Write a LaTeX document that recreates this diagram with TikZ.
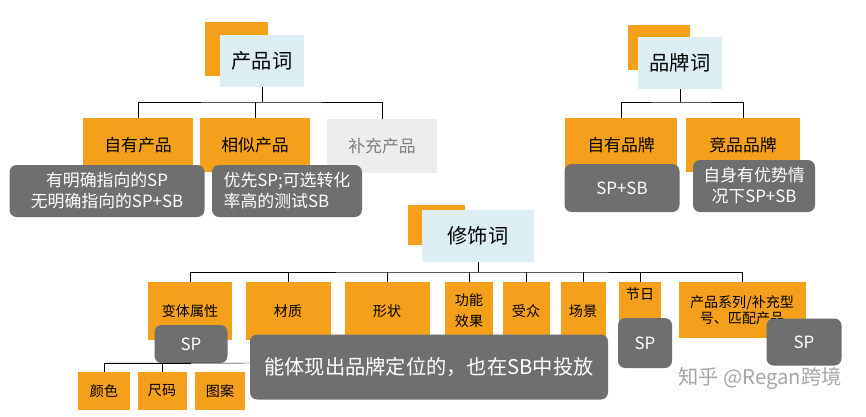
\documentclass[tikz,border=0pt]{standalone}
\usepackage{fontspec}
\setmainfont{Noto Sans CJK SC}
\usetikzlibrary{positioning}
\definecolor{amorange}{HTML}{F5A01A}
\definecolor{amblue}{HTML}{DCEEF4}
\definecolor{amgray}{HTML}{6F6F6F}
\definecolor{amlight}{HTML}{EDEDED}
\begin{document}
\begin{tikzpicture}[x=0.03cm, y=-0.03cm,
        cat/.style={fill=amorange, minimum width=#1*0.03cm, minimum height=54*0.03cm, font=\Large, inner sep=1pt, align=center},
        cat/.default=110,
        head/.style={fill=amblue, minimum width=84*0.03cm, minimum height=52*0.03cm, font=\LARGE},
        back/.style={fill=amorange},
        note/.style={fill=amgray, rounded corners=6pt, text=white, align=center, font=\Large, inner sep=2pt},
        tree/.style={draw, black, thin}]
    \useasboundingbox (0,0) rectangle (866,416);
    % product words
    \fill[back] (205,22) rectangle (268,76);
    \node[head] (P) at (262,61) {产品词};
    \node[cat] (P1) at (138,145) {自有产品};
    \node[cat] (P2) at (255,145) {相似产品};
    \node[cat, fill=amlight, text=gray] (P3) at (382,146) {补充产品};
    \draw[tree] (P.south) -- (262,102) coordinate (p0);
    \draw[tree] (P1.north) |- (p0) -| (P3.north);
    \draw[tree] (P2.north) -- (P2.north |- p0);
    \node[note, minimum width=195*0.03cm, minimum height=52*0.03cm] (N1) at (107,191) {有明确指向的SP\\无明确指向的SP+SB};
    \node[note, minimum width=150*0.03cm, minimum height=52*0.03cm, align=left] (N2) at (287,191) {优先SP;可选转化\\率高的测试SB};
    % brand words
    \fill[back] (628,25) rectangle (690,70);
    \node[head] (B) at (680,63) {品牌词};
    \node[cat=112] (B1) at (621,145) {自有品牌};
    \node[cat=114] (B2) at (743,145) {竞品品牌};
    \draw[tree] (B.south) -- (680,102) coordinate (b0);
    \draw[tree] (B1.north) |- (b0) -| (B2.north);
    \node[note, minimum width=115*0.03cm, minimum height=48*0.03cm] (N3) at (622,188) {SP+SB};
    \node[note, minimum width=122*0.03cm, minimum height=52*0.03cm] (N4) at (754,186) {自身有优势情\\况下SP+SB};
    % modifier words
    \fill[back] (408,205) rectangle (465,245);
    \node[head, minimum width=112*0.03cm] (M) at (478,236) {修饰词};
    \node[cat=84, minimum height=58*0.03cm, font=\large] (M1) at (190,311) {变体属性};
    \node[cat=85, minimum height=58*0.03cm, font=\large] (M2) at (288,311) {材质};
    \node[cat=85, minimum height=58*0.03cm, font=\large] (M3) at (387,311) {形状};
    \node[cat=48, minimum height=58*0.03cm, font=\large] (M4) at (469,311) {功能\\[4pt]效果};
    \node[cat=47, minimum height=58*0.03cm, font=\large] (M5) at (526,311) {受众};
    \node[cat=45, minimum height=58*0.03cm, font=\large] (M6) at (583,311) {场景};
    \node[cat=42, minimum height=58*0.03cm, font=\large, anchor=north] (M7) at (640,282) {节日\\[16pt]};
    \node[cat=127, minimum height=56*0.03cm, font=\large] (M8) at (742,310) {产品系列/补充型\\号、匹配产品};
    \draw[tree] (M.south) -- (478,272) coordinate (m0);
    \draw[tree] (M1.north) |- (m0) -| (M8.north);
    \foreach \k in {2,...,7} \draw[tree] (M\k.north) -- (M\k.north |- m0);
    % modifier notes
    \node[note, minimum width=73*0.03cm, minimum height=38*0.03cm] (S1) at (191,344) {SP};
    \node[note, minimum width=54*0.03cm, minimum height=50*0.03cm] (S2) at (645,343) {SP};
    \node[note, minimum width=75*0.03cm, minimum height=47*0.03cm] (S3) at (804,342) {SP};
    \node[cat=52, minimum height=38*0.03cm, font=\large] (V1) at (104,391) {颜色};
    \node[cat=49, minimum height=38*0.03cm, font=\large] (V2) at (162,391) {尺码};
    \node[cat=50, minimum height=38*0.03cm, font=\large] (V3) at (220,391) {图案};
    \draw[tree] (V1.north) |- (S1.south) coordinate (s0);
    \draw[tree] (V1.north |- s0) -- (250,363);
    \draw[tree] (V2.north) -- (V2.north |- s0);
    \node[note, minimum width=358*0.03cm, minimum height=65*0.03cm, font=\LARGE] (N5) at (429,367) {能体现出品牌定位的，也在SB中投放};
    \node[text=gray!70, font=\LARGE] (W) at (760,378) {知乎 @Regan跨境};
\end{tikzpicture}
\end{document}
